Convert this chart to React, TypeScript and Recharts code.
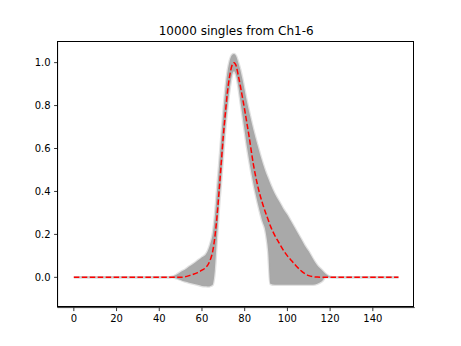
import React from "react";
import { ComposedChart, Area, Line, XAxis, YAxis } from "recharts";

const TITLE = "10000 singles from Ch1-6";

const xs = [0, 20, 40, 44, 46, 48, 50, 52, 54, 56, 58, 60, 62, 63, 64, 65, 66, 67, 68, 69, 70, 71, 72, 73, 74, 75, 76, 77, 78, 79, 80, 81, 82, 84, 86, 88, 90, 91, 92, 94, 96, 98, 100, 102, 104, 106, 108, 110, 112, 114, 116, 118, 120, 122, 130, 140, 152];

const meanVals = [0, 0, 0, 0, 0, 0, 0, 0.003, 0.008, 0.014, 0.022, 0.033, 0.048, 0.062, 0.085, 0.12, 0.185, 0.28, 0.4, 0.53, 0.66, 0.77, 0.87, 0.94, 0.985, 1.0, 0.985, 0.94, 0.89, 0.835, 0.78, 0.72, 0.66, 0.53, 0.43, 0.355, 0.295, 0.268, 0.24, 0.197, 0.162, 0.128, 0.1, 0.077, 0.054, 0.034, 0.018, 0.008, 0.003, 0.001, 0, 0, 0, 0, 0, 0, 0];

const hiVals = [0, 0, 0, 0, 0.003, 0.012, 0.025, 0.035, 0.05, 0.063, 0.078, 0.093, 0.11, 0.13, 0.16, 0.2, 0.28, 0.4, 0.52, 0.65, 0.77, 0.88, 0.96, 1.01, 1.035, 1.04, 1.03, 1.0, 0.965, 0.92, 0.87, 0.82, 0.775, 0.69, 0.615, 0.545, 0.485, 0.46, 0.435, 0.39, 0.355, 0.32, 0.29, 0.255, 0.22, 0.185, 0.15, 0.12, 0.085, 0.055, 0.035, 0.015, 0.003, 0, 0, 0, 0];

const loVals = [0, 0, 0, 0, 0, -0.005, -0.012, -0.02, -0.025, -0.03, -0.035, -0.04, -0.042, -0.043, -0.04, -0.035, 0.03, 0.18, 0.33, 0.45, 0.58, 0.7, 0.8, 0.88, 0.94, 0.96, 0.94, 0.89, 0.82, 0.75, 0.68, 0.61, 0.55, 0.44, 0.35, 0.27, 0.2, 0.12, -0.03, -0.035, -0.035, -0.035, -0.035, -0.035, -0.035, -0.035, -0.035, -0.035, -0.035, -0.03, -0.02, 0, 0, 0, 0, 0, 0];

const xTicks = [0, 20, 40, 60, 80, 100, 120, 140];
const yTicks = [0, 0.2, 0.4, 0.6, 0.8, 1.0];

const data = xs.map((x, i) => ({ x, mean: meanVals[i], band: [loVals[i], hiVals[i]] }));

const FONT = "DejaVu Sans";
const tickStyle = { fontFamily: FONT, fontSize: 10, fill: "#000" };

export default function App() {
  return (
    <div style={{ position: "absolute", left: 0, top: 0, width: 461, height: 346, background: "#fff" }}>
      <div
        style={{
          position: "absolute",
          left: 57.6,
          width: 357.1,
          top: 24,
          textAlign: "center",
          fontFamily: FONT,
          fontSize: 12,
          lineHeight: "14px",
          color: "#000",
        }}
      >
        {TITLE}
      </div>
      <ComposedChart
        width={461}
        height={346}
        data={data}
        margin={{ top: 41.6, right: 46.3, bottom: 0, left: 0 }}
      >
        <XAxis
          dataKey="x"
          type="number"
          domain={[-7.6, 159.6]}
          ticks={xTicks}
          allowDataOverflow
          height={38.4}
          tickSize={3.5}
          tickMargin={3.5}
          tick={tickStyle}
          axisLine={{ stroke: "#000", strokeWidth: 0.8 }}
          tickLine={{ stroke: "#000", strokeWidth: 0.8 }}
        />
        <YAxis
          type="number"
          domain={[-0.141, 1.098]}
          ticks={yTicks}
          allowDataOverflow
          width={57.6}
          tickSize={3.5}
          tickMargin={3.5}
          tick={tickStyle}
          tickFormatter={(v: number) => v.toFixed(1)}
          axisLine={{ stroke: "#000", strokeWidth: 0.8 }}
          tickLine={{ stroke: "#000", strokeWidth: 0.8 }}
        />
        <Area
          dataKey="band"
          type="monotone"
          fill="#a9a9a9"
          fillOpacity={1}
          stroke="#a9a9a9"
          strokeOpacity={0.35}
          strokeWidth={2.5}
          isAnimationActive={false}
          dot={false}
          activeDot={false}
        />
        <Line
          dataKey="mean"
          type="monotone"
          stroke="#ff0000"
          strokeWidth={1.5}
          strokeDasharray="5.55 2.4"
          dot={false}
          activeDot={false}
          isAnimationActive={false}
        />
      </ComposedChart>
      <div
        style={{
          position: "absolute",
          left: 57.2,
          top: 41.2,
          width: 357.1,
          height: 266,
          border: "0.8px solid #000",
          boxSizing: "border-box",
          pointerEvents: "none",
        }}
      />
    </div>
  );
}
